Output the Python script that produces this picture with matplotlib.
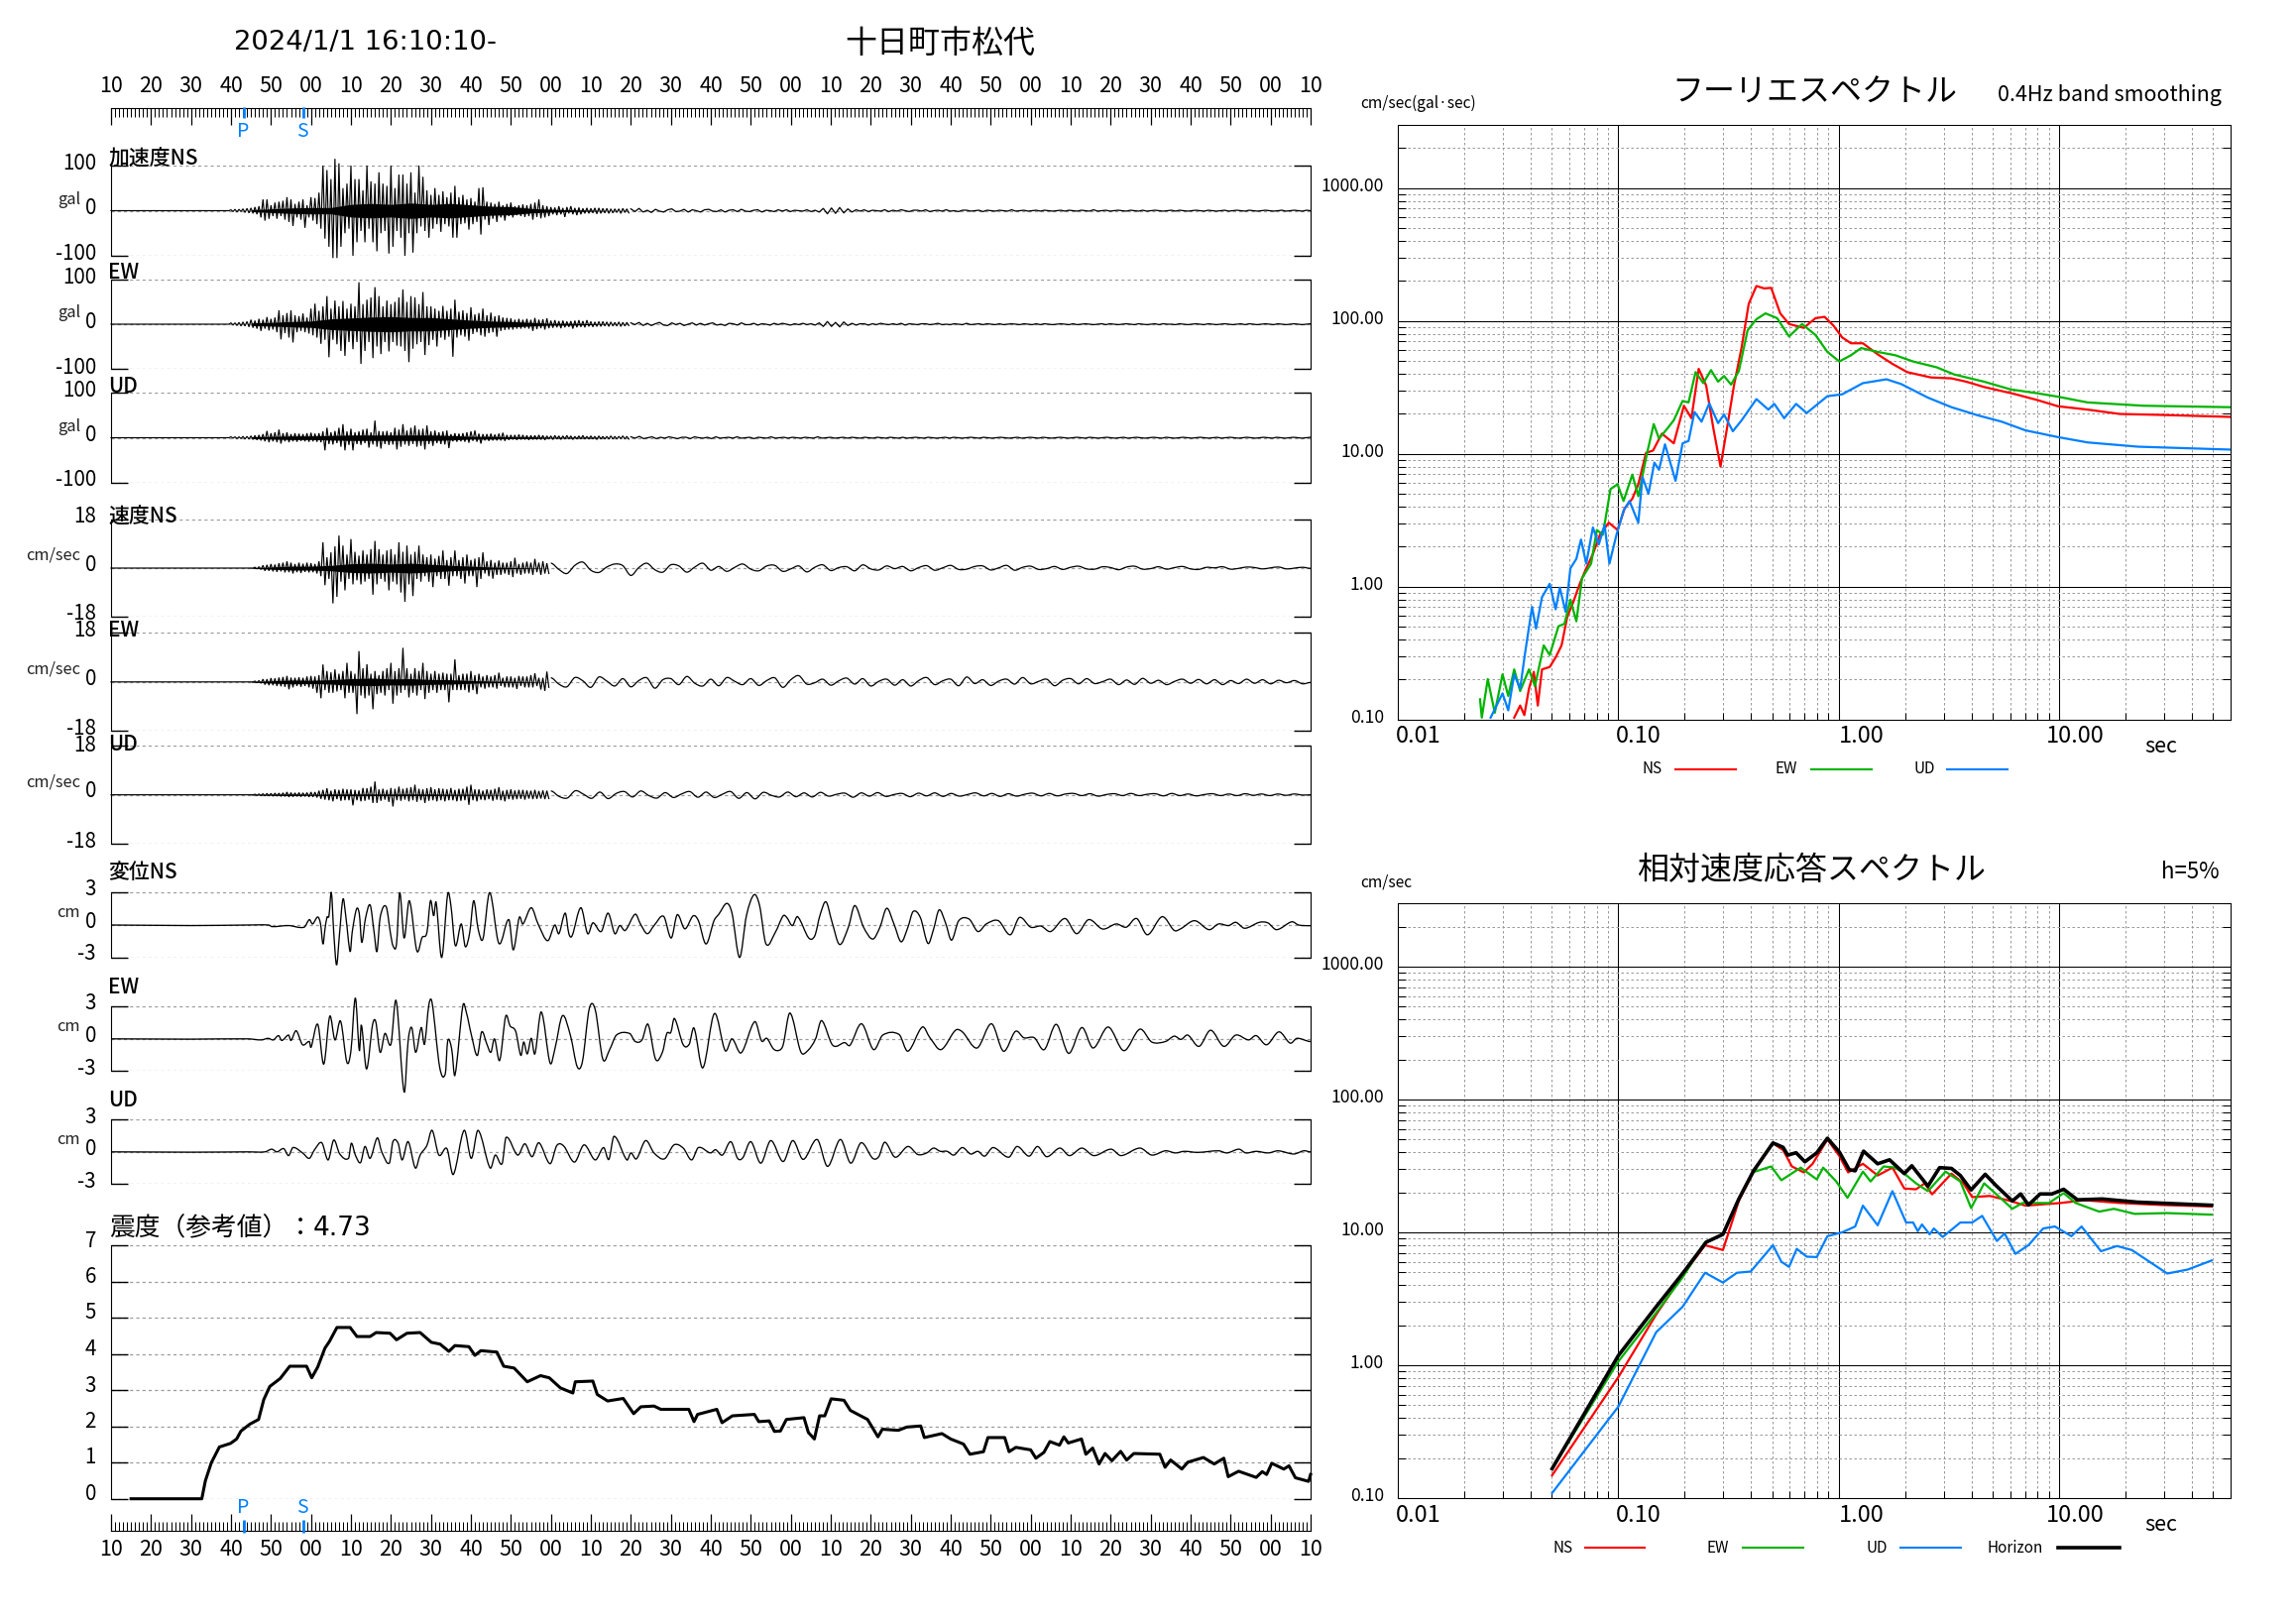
import matplotlib
matplotlib.use('Agg')
import matplotlib.pyplot as plt
import numpy as np
from matplotlib.patches import PathPatch
from matplotlib.path import Path
from matplotlib.ticker import LogLocator, NullFormatter, MultipleLocator

plt.rcParams['font.family'] = ['Noto Sans CJK JP', 'DejaVu Sans']

W, H = 2316, 1637
RED, GREEN, BLUE = '#ff0000', '#00b400', '#0080ff'
GRAY = '#9a9a9a'

P_TIME = 33.2
S_TIME = 48.1
time_labels = ['10', '20', '30', '40', '50', '00'] * 5 + ['10']

# --- acceleration, gal: highest and lowest reading per second from t=30, then the tail from t=130
acc_ns_up = [2,3,3,4,5,6,8,10,25,25,12,18,20,22,30,25,15,20,25,12,30,28,40,100,90,70,115,105,50,60,
             100,70,70,45,100,65,60,85,60,55,100,50,80,80,60,85,40,100,75,45,35,50,35,43,30,40,55,30,35,25,
             28,20,50,52,20,18,15,20,12,15,18,10,12,14,12,15,18,25,12,10,
             8,7,10,6,8,10,6,7,5,6,5,6,6,5,5,4,4,4,5,4]
acc_ns_lo = [-2,-3,-2,-4,-5,-6,-8,-15,-22,-18,-12,-18,-12,-20,-25,-34,-15,-20,-38,-15,-22,-30,-40,-62,-80,-105,-105,-80,-50,-40,
             -100,-70,-45,-70,-40,-70,-90,-50,-45,-95,-80,-45,-60,-100,-50,-93,-50,-35,-45,-60,-40,-30,-47,-30,-35,-60,-60,-30,-28,-42,
             -30,-25,-53,-20,-32,-18,-25,-15,-22,-12,-15,-10,-12,-14,-12,-20,-14,-17,-15,-12,
             -8,-10,-8,-14,-6,-8,-10,-8,-6,-6,-5,-7,-6,-5,-6,-5,-4,-6,-4,-5]
acc_ns_tail = [4,-2,5,-3,1,-4,3,-1,-3,2,4,-2,-1,3,-3,2,0,-3,2,3,-1,-2,2,-3,1,2,-2,3,-1,-2,1,2,-3,1,0,-2,2,-1,2,-2,1,0,-1,2,-2,1,-3,5,-7,6,-6,7,-5,4,-3,2,-1,2,-2,1,
               0,-1,2,-2,1,-1,2,0,-2,1,1,-1,2,-2,0,1,-1,2,-1,0,-2,1,1,-1,0,1,-2,1,0,-1,1,0,-1,2,-1,0,1,-1,0,1,-1,1,0,-1,0,1,-1,1,0,-1,1,0,-1,2,-1,0,1,-1,0,1,
               0,-1,1,0,-1,1,-1,0,1,0,-1,0,1,-1,1,0,-1,0,1,0,-1,1,0,-1,0,1,-1,0,1,0,-1,1,0,-1,0,1,0,-1,0,1,-1,0,1,0,-1,1,0]

acc_ew_up = [3,3,4,5,6,10,8,12,10,16,12,15,31,20,25,31,20,18,24,15,35,46,30,40,63,35,53,40,52,35,
             46,40,94,45,55,60,83,63,40,53,45,50,60,78,50,63,60,45,72,40,40,35,30,41,30,35,55,28,31,25,
             38,22,25,35,20,26,18,20,15,14,13,10,12,10,12,10,14,10,11,13,
             8,9,7,8,6,7,8,9,7,9,6,5,6,6,5,5,4,5,4,4]
acc_ew_lo = [-2,-3,-4,-4,-6,-8,-10,-15,-10,-14,-12,-18,-34,-20,-30,-41,-18,-15,-18,-21,-25,-30,-44,-35,-74,-35,-45,-60,-71,-40,
             -56,-40,-89,-60,-40,-76,-50,-67,-40,-61,-40,-48,-50,-60,-85,-55,-45,-40,-69,-47,-35,-50,-30,-35,-28,-73,-30,-25,-28,-37,
             -22,-18,-25,-28,-20,-18,-28,-15,-13,-12,-12,-10,-10,-9,-10,-15,-11,-9,-12,-9,
             -8,-7,-9,-7,-6,-10,-7,-6,-7,-5,-6,-5,-5,-4,-5,-4,-4,-5,-4,-3]
acc_ew_tail = [3,-1,4,-3,2,-3,1,4,-2,-3,3,-1,2,-3,0,3,-2,2,-2,1,3,-2,0,-3,2,1,-2,3,-1,-1,2,-2,1,0,-2,2,-1,2,0,-2,1,-1,2,-1,1,-2,3,-5,6,-5,4,-6,5,-3,2,-2,1,1,-2,1,
               -1,2,0,-1,1,-1,2,-2,1,0,-1,1,1,-1,0,2,-1,0,-1,1,0,-1,2,-1,0,1,-1,1,0,-1,1,-1,0,1,0,-1,1,0,-1,1,-1,1,0,-1,0,1,0,-1,1,-1,0,1,0,-1,0,1,-1,1,0,-1,
               0,1,0,-1,1,0,-1,0,1,-1,1,0,0,-1,1,0,-1,0,1,0,-1,1,0,-1,0,1,0,-1,0,1,-1,1,0,-1,0,1,0,-1,1,0,-1,0,1,0,-1,0,1]

acc_ud_up = [2,2,2,3,3,4,5,6,8,15,10,12,18,10,12,8,10,9,8,10,11,9,10,14,22,12,15,22,30,14,
             20,12,14,18,20,12,38,15,14,15,12,22,18,30,16,22,27,18,20,27,14,16,12,14,16,8,10,9,10,12,
             14,16,9,8,8,9,7,9,11,6,6,6,7,6,5,5,5,6,5,4,
             4,5,4,4,5,4,3,4,5,3,4,3,4,3,3,4,3,3,4,3]
acc_ud_lo = [-1,-2,-2,-3,-3,-4,-5,-6,-8,-10,-8,-10,-13,-8,-10,-8,-9,-7,-8,-9,-8,-9,-10,-28,-14,-15,-12,-20,-28,-16,
             -28,-14,-16,-12,-22,-15,-20,-24,-14,-16,-15,-26,-20,-15,-18,-14,-20,-18,-26,-14,-18,-12,-14,-15,-23,-8,-9,-8,-9,-11,
             -7,-9,-13,-6,-7,-6,-6,-6,-7,-5,-4,-5,-4,-4,-5,-4,-4,-4,-5,-3,
             -4,-3,-4,-3,-3,-4,-3,-3,-3,-3,-3,-4,-3,-3,-3,-3,-3,-2,-3,-3]
acc_ud_tail = [2,-1,3,-2,0,2,-2,1,-1,2,0,-2,1,1,-2,2,0,-1,1,-2,2,-1,0,1,-1,2,-1,0,1,-2,1,0,-1,2,-1,0,1,-1,1,0,-1,1,0,-1,2,-1,0,1,-1,0,1,-1,1,0,-1,1,0,-1,1,0,
               -1,1,0,-1,1,-1,0,1,0,-1,1,0,-1,0,1,-1,1,0,-1,0,1,0,-1,1,0,-1,0,1,0,-1,0,1,-1,0,1,0,-1,1,0,-1,0,1,0,-1,0,1,0,-1,1,0,-1,0,1,0,-1,0,1,-1,0,1,
               0,-1,0,1,0,-1,1,0,-1,0,1,0,-1,0,1,0,-1,0,1,-1,0,1,0,-1,0,1,0,-1,0,1,0,-1,1,0,-1,0,1,0,-1,0,1]

# half width of the solid black part of each trace, every 5 s from t=35
core_t = [35,40,45,50,55,60,65,70,75,80,85,90,95,100,105,110,115,120,125]
acc_ns_core = [2,4,6,7,7,14,16,14,17,14,16,13,10,9,5,3,2,1,0]
acc_ew_core = [3,4,6,7,12,14,16,17,15,15,12,9,7,6,4,2,2,1,0]
acc_ud_core = [2,3,4,4,5,6,6,6,6,6,5,3,3,2,2,1,1,1,0]
vel_ns_core = [.1,.4,.7,.7,1,1.6,1.8,1.5,1.8,1.4,1,.7,.4,.2,.1,0,0,0,0]
vel_ew_core = [.1,.4,.7,.6,.8,1.2,1.4,1.1,1.2,.9,.8,.5,.3,.2,.1,0,0,0,0]
vel_ud_core = [.1,.2,.3,.2,.3,.3,.3,.3,.3,.3,.2,.2,.1,.1,0,0,0,0,0]

# --- velocity, cm/sec: same readings from t=36, tail from t=110
vel_ns_up = [.3,.5,1,1.2,1.5,1.3,1.8,2,2.5,2,1.5,2,1.6,2,1.8,1.5,2.5,9.5,4,5.8,8,12,8.3,5,10.7,6,4.6,6.5,5,7,
             10,7,5,6.5,7,5,9.5,6,8.3,5,6,8.3,5,4,5,3.5,4.5,6.5,3,4,6.5,3,4,5,3,3.5,4,5.8,2.5,3,
             2,2.8,2,2,2.5,3.8,1.5,2,2.4,2,3.4,2,2.5,1.8]
vel_ns_lo = [-.3,-.5,-1,-1,-1.2,-1.4,-1.2,-1.6,-1.5,-2,-1.5,-1.8,-1.4,-1.6,-1.5,-2,-3,-6.3,-4,-13,-10.6,-5,-8.2,-4,-6,-4.5,-6,-5,-4,-9.8,
             -6,-4,-5,-8.2,-5,-6,-9,-12.4,-6,-10.3,-4,-5,-3,-5,-7,-3,-4,-4,-6.5,-3,-3,-4,-5.7,-3,-3,-7,-4,-2,-3,-3.9,
             -2.5,-2.5,-2,-2.5,-3.3,-2,-2.5,-2,-2,-2.5,-1.5,-2.5,-2,-2]
vel_ns_tail = [1.8,-.5,-2,1,2.2,-.8,-1.6,.4,1.5,.9,-2.7,.2,1.8,-.6,-1.5,1.2,.8,-1.5,.4,1.8,-.8,.6,-1.2,.3,1.5,-.4,-1,.8,1,-1.2,
               -.3,.8,-1.4,.3,1.2,-.9,.2,.5,-1,1.2,-.3,-.7,.8,-.2,.6,-1,.2,.9,-.8,.1,1,-.5,-.4,.6,.8,-.7,.1,1,-.8,.3,
               .7,-.5,-.2,.6,-.5,.3,.7,-.3,-.4,.5,.2,-.6,.4,.7,-.4,-.2,.5,-.4,.2,.6,-.3,-.5,.3,.1,.5,-.4,-.1,.4,.2,-.3,.1,.4,-.3,0,.3,-.1]

vel_ew_up = [.3,.5,1,1,1.4,1.3,1.6,1.8,2.2,1.6,1.5,1.7,1.5,2,2.2,2,2.5,6.4,4,3.5,4.6,3,4,7,4,3,11.3,5,6.5,3,
             4,2.5,4,5,7,4,5,12.5,5,3,5,4,7,4,3,4,3,3.4,3,3,8.3,2.5,3,3,4,2.5,3,2,2.5,2,
             2.5,3.4,1.5,2,2,1.5,2.2,2,2,2.5,3.2,1.5,1.5,3.8]
vel_ew_lo = [-.3,-.5,-1,-1.2,-1.2,-1.5,-1.6,-1.8,-2.7,-2,-1.5,-1.8,-1.5,-2,-2.5,-4,-6,-3,-4,-4,-3.5,-3,-6,-4,-4,-11.8,-5,-6,-5,-10,
             -4.5,-4,-5,-3,-8,-5,-4,-3,-5.7,-4,-5,-3,-6.3,-4,-3,-4,-3,-3,-7.5,-3,-3,-3,-3,-3.9,-3,-4.5,-2,-2.5,-2,-2,
             -2.5,-1.5,-2,-2,-2,-2.6,-1.5,-2,-2,-2,-1.5,-2.8,-3.3,-2]
vel_ew_tail = [1.5,-.8,-1.8,1.6,.4,-2,1.8,.3,-1.5,1.2,-1.8,.5,1.5,-2.3,.8,1.2,-1,2,-.5,-1.5,1,-1.4,1.6,.2,-1,1.2,-1.3,.5,1.5,-2,
               .8,2.3,-.8,-.3,1,-1.2,.4,1.4,-.8,1.2,-1.5,.2,1,-1.2,.8,-1.5,.5,1.6,-1,.4,1,-1.4,1.8,-.6,.8,-1.3,.3,1,-.8,1.6,
               -.7,.2,1,-1.4,.6,1.2,-.7,1.2,-.6,.1,1,-1,.7,-.9,1.3,-.5,.6,-1,.2,1,-.5,.9,-.7,.8,-1,.5,-.6,1,-.5,.8,-.7,.6,-.3,.5,-.7,-.2]

vel_ud_up = [.2,.3,.4,.5,.5,.6,.6,.7,1,.8,.7,.8,.7,.8,1,1,1.5,1.8,2.4,1.5,2,1.8,2.2,2,2,1.8,1.6,2.5,2.4,3,
             4.9,2,2.2,1.8,2.5,2.2,3,2.2,2.5,2.8,3.7,2.2,2,2.4,2.8,2,2.4,2.2,2,2.5,1.8,2.2,2.2,3,3.7,2,2,1.5,2,1.8,
             2.2,2.8,1.5,1.8,2,1.6,1.8,1.8,1.6,1.5,1.8,1.4,1.6,1.5]
vel_ud_lo = [-.2,-.3,-.4,-.4,-.5,-.5,-.6,-.6,-.8,-.7,-.6,-.7,-.6,-.8,-.8,-1,-1.5,-1.8,-2,-2.4,-1.6,-2.2,-2,-2,-3.9,-2,-2.4,-2.2,-1.8,-3,
             -3,-2.2,-1.8,-2.6,-4.3,-2,-2.2,-1.8,-2.4,-2,-2.6,-2,-3,-2.2,-2,-2.4,-2,-2.4,-2,-2,-2.4,-2.2,-2,-3.7,-2,-2.4,-1.8,-2,-1.6,-2.2,
             -1.8,-2,-2.4,-1.6,-1.8,-1.6,-1.5,-1.8,-1.4,-1.6,-1.5,-1.4,-1.6,-1.4]
vel_ud_tail = [1.4,-.6,-1.2,1.5,.2,-1.3,1,-1.4,.5,1.2,-.8,1.4,-.3,-1.2,.8,-1,.3,1.2,-.9,1,-1,.2,1.2,-1.3,.8,-1.5,.9,-.2,-.8,1,
               -.7,.7,-.8,.9,-.5,.2,.6,-.9,.7,-.5,.8,-.6,.1,.5,-.7,.6,-.4,.7,-.6,.5,-.5,.1,.7,-.4,.5,-.6,.4,-.5,.2,.6,
               -.4,.5,-.4,.3,.5,-.3,.4,-.5,.1,.4,-.3,.5,-.3,.2,.4,-.4,.5,-.3,.3,-.4,.1,.4,-.3,.3,-.3,.4,-.2,.3,-.3,.3,-.2,.3,-.1,0]

# --- displacement, cm: turning points
disp_ns_t = [0,20,34.2,39.4,40.3,44.4,48.3,49.6,50.4,51.7,52.4,53,53.5,54,54.5,55.1,55.7,56.4,57.1,58,58.7,59.8,60.3,61.4,62.1,62.7,63.6,64.8,65.8,66.5,
             67.3,68.8,69.9,70.5,71.4,72.2,73.3,74.6,76.5,77.8,79,79.9,80.7,81.3,82.7,84.2,85,86.1,87.6,88.6,89.7,90.7,91.8,93,94.7,97,99.5,100.6,102.1,103,
             105.1,106.8,109.2,111,112,113.6,114.5,115.3,117.5,119.2,120.5,122.6,124.3,126,127.2,128.6,131.1,132.4,134.1,135.8,138.2,140.1,141.6,143.5,145.6,146.9,148.8,150.8,152,154,155.3,157.2,158.9,160.8,162.2,163.8,166.1,168.1,
             169,170.4,171.7,174.5,176,177.3,178.8,180.3,182.2,184.4,186,188.2,190.5,192.3,194,195.8,197.6,199.3,200.6,202.4,204.3,205.7,207.1,208.7,210.2,212,214.6,216.8,218.9,221.9,224.9,227.2,230,232.6,235,238.6,241.5,244.5,248,251.4,253.9,256.5,259.2,262.9,265.9,267.5,271,274.6,277,279.5,281.3,283.5,287.2,289.3,291.5,295.3,297,300]
disp_ns_v = [0,-.05,0,0,-.15,-.05,-.2,.5,.1,.74,.1,-1.75,-.4,.7,.85,3,-.7,-3.7,-1,2.4,.85,-2.46,-.7,1.48,1,-1.6,.55,1.85,-.7,-2.46,
             .7,1.7,-.8,-1.9,-1.75,3,-1.2,2.25,-2.4,-1.15,-.7,2.25,.85,2.1,-3,2.86,1.8,-1.9,.1,-2,-.7,2.25,-.35,-1.3,3,-1.7,.5,-2.3,.7,.1,
             1.6,.1,-1.45,0,-.8,1.1,-.8,-1,1.6,-.8,.2,-.6,1.1,-.8,-.05,-.5,1,.1,-.8,-.05,.8,-1.2,.95,-.35,.85,.4,-1.75,.4,1,2,1.1,-3,.85,2.8,1.8,-1.75,-.7,.85,
             .7,-.05,.77,-1.2,-1,.9,2.15,.3,-1.8,-.2,1.8,-.2,-1.3,-.2,1.55,.1,-1.55,-.2,1.25,.7,-1.7,-.4,1.4,.2,-1.4,.4,.55,-.6,.1,.4,-.9,.7,-.2,-.1,-.6,.6,-.8,.5,-.37,.1,-.2,.6,-.9,.77,-.5,-.35,.4,-.43,.1,-.05,.25,-.3,.25,.2,-.43,.3,0,-.06]

disp_ew_t = [0,20,34.2,37.6,39.3,40.6,41.9,42.7,44.4,45,46.3,47.9,49.6,50,51.7,53.2,54.7,56,57.4,59,60,61.1,62.1,62.6,63.9,65.4,66.2,67.3,68.5,70,
             71.3,73.3,74.3,75.2,76.2,77.6,78.4,79.5,80.3,82.2,83.6,84.2,85.2,86,88,88.9,90.1,91.6,92.7,94,95,95.9,97.2,98.7,99.8,101.2,102.5,103.2,104.1,105.1,
             106,107.6,109.8,111,112.9,114.9,116.6,117.9,119.6,121.1,123,124.7,126.4,129.7,131.1,132.8,134.3,136.2,137.9,139,140,140.9,143.1,144.6,145.8,148,150.9,153.6,155.3,157.6,161,162.7,164,165.7,167.2,
             168.1,169.8,172.5,174.1,176.2,177.7,180.5,183.5,184.8,187.7,190.7,193,197.1,199.3,202.9,204.8,207.6,211.2,212.9,216.6,220.2,223.2,226.2,228.3,230.9,233.4,236.4,239.5,242.8,245.6,249.4,253.3,257.3,260.3,263.7,265.9,267.6,269.3,272.1,275,278.3,281.3,284.5,286.4,289,292.1,294.9,296.6,300]
disp_ew_v = [0,-.03,0,-.1,.05,-.1,.3,-.15,.35,-.15,.75,-.55,-.25,-.8,1.35,-2.35,2.1,-.1,1.65,-2.2,-1.1,3.8,-1.1,1.3,-2.8,1.3,1.6,-1.25,.5,-.5,
             3.55,-4.95,-.2,1.05,-1.25,1.05,-.5,3.2,3.35,-2.65,-3.25,-.2,-.95,-3.4,3.1,2.4,.4,-1.55,.65,-.5,-1.25,0,-2,2.1,1.2,.7,-1.55,-.3,-1.4,.05,
             -1.4,2.5,-2.25,-.95,2.15,.3,-2.6,-2.1,2.8,2.7,-1.9,-1,.35,.5,-.25,-.1,1.35,-1.9,-1.25,.5,.6,1.9,-.55,-.5,1,-2.7,2.35,-1.1,0,-1.3,1.6,-.2,.05,-.95,-1.05,
             -.55,2.4,-1.2,-1.15,0,1.7,-.6,-.35,-.6,1.4,-1,.35,.4,-1.15,1.1,.1,-1,.8,.65,-.85,1.4,-1.15,.7,.1,.1,-1,1.35,-1.35,1.05,-.85,1.1,-1.1,.9,-.3,-.25,.25,-.05,.35,-.7,.8,-.7,.35,-.1,.3,-.55,.65,-.4,.05,-.25]

disp_ud_t = [0,20,34.2,38.5,40.2,41.5,43.2,44.4,45.5,47.9,49.6,50.9,52.7,54.3,55.7,57.2,59.4,60.1,61.1,62.4,63.5,64.8,66.6,67.7,69.6,70.5,71.8,72.8,74.3,76.1,
             77.3,79,80.3,82,84,85.6,88.3,90.1,91.8,94.8,96.1,97.8,98.8,101.7,103.5,105.3,107,109.8,111.5,113.2,115.9,118.3,121.1,123.2,124.5,125.8,129,130,131.4,133.7,135.8,138.4,140.8,143.1,145.2,146.9,149.9,151.2,152.9,155,156.7,158,160,162.5,165,168.1,
             170.5,173.1,176.6,179.2,182.4,185,187.6,190.5,192,193.5,196.1,199.3,201.8,204,205.7,207.4,209.1,210.8,212.9,215,216.8,218.5,220.6,224.5,226.6,229.6,231.7,234,237.3,239.7,242.8,245.8,250.1,252.6,257.3,260.3,263.7,266.2,268.4,271.8,277,279.1,282.1,283.8,286.4,289.4,291.9,295.8,298.3,300]
disp_ud_v = [0,-.03,0,0,.25,0,.3,-.35,.4,-.1,-.6,.2,.85,-.75,1.1,-.2,-.6,.8,-.3,-1,.5,-.6,1.3,0,-1.05,.95,.8,-.75,.95,-1.5,
             -.3,.6,2,-.3,.3,-2.1,2,-.6,2,-1.5,-.3,-1.1,1.35,-.3,.75,-.45,.85,-1.1,.6,.55,-.95,.65,-.75,.4,-.7,1.45,-.75,-.1,-.65,1.05,-.1,-.65,.65,.35,-.75,.4,-.1,.2,-.3,.95,-.6,-.55,.95,-1.05,1.05,-.9,
             1.05,-.7,1.15,-1.35,1.15,-1.05,.85,-.6,-.45,.9,-.5,.5,-.25,-.1,.35,.05,.05,-.3,.4,-.2,.05,-.4,.4,-.5,.5,-.4,.5,-.45,.35,-.35,.35,-.35,.25,-.35,.35,-.3,.1,-.1,.05,-.05,.1,-.1,.25,-.1,.05,-.1,.1,-.2,.1,0]

# --- seismic intensity
intensity_t = [5,22.7,23.6,25.1,27.1,29.9,31.4,32.5,34.7,36.9,38.2,39.7,42.3,44.7,48.9,50.2,51.7,53.5,54.6,56.5,59.8,61.5,64.8,66.3,69.8,71.4,74,77.3,80.1,82.3,
               84.5,86,89.5,91,92.5,96.5,98.2,100.8,104.1,107.4,109.6,112.4,115.5,116.1,120.5,121.6,124.2,128.1,130.7,132.5,135.8,137.5,144.5,145.8,146.7,151.5,152.8,155.4,160.9,162,
               164.6,165.9,167.4,168.9,173.3,174.4,175.9,177.2,178.5,180.1,183.3,184.9,189.2,191.8,192.9,196.9,199,202.5,203.4,207.8,210,213.2,214.8,218.2,219.3,223.5,224.6,226.3,230,231.3,
               233.3,234.8,237.2,238.3,239.4,242.7,243.8,245.5,247.1,248.6,250.3,252.5,254,255.8,262.3,263.6,265,267.8,269.3,273.2,275.9,278.3,279.4,282,286.4,287.9,289,290.3,293.3,294.6,296.2,299.5,300]
intensity_v = [0,0,.5,1,1.43,1.53,1.65,1.87,2.06,2.19,2.74,3.1,3.32,3.66,3.66,3.34,3.64,4.16,4.34,4.73,4.73,4.48,4.48,4.59,4.57,4.39,4.57,4.59,4.32,4.27,
               4.07,4.23,4.2,3.96,4.09,4.05,3.66,3.61,3.23,3.4,3.34,3.06,2.92,3.23,3.25,2.88,2.7,2.77,2.35,2.54,2.56,2.47,2.47,2.13,2.33,2.47,2.1,2.29,2.33,2.13,
               2.15,1.86,1.87,2.19,2.24,1.83,1.65,2.29,2.29,2.76,2.72,2.44,2.19,1.71,1.92,1.89,1.98,2.01,1.69,1.8,1.65,1.51,1.23,1.3,1.69,1.69,1.3,1.42,1.35,1.12,
               1.28,1.58,1.48,1.71,1.54,1.65,1.23,1.4,.96,1.25,1.05,1.31,1.07,1.25,1.23,.87,1.07,.82,1.01,1.14,.96,1.12,.61,.76,.59,.75,.67,.98,.82,.91,.58,.48,.67]

# --- Fourier spectrum, log10 of period and amplitude
fs_ns_logt = [-1.472,-1.445,-1.426,-1.405,-1.383,-1.365,-1.346,-1.311,-1.284,-1.257,-1.231,-1.204,-1.177,-1.150,-1.115,-1.083,-1.043,-1.003,-.971,-.936,-.909,-.874,-.842,-.802,-.748,-.702,-.668,-.635,-.601,-.568,-.536,-.507,-.475,-.440,-.408,-.373,-.338,-.306,-.265,-.225,-.158,-.105,-.064,-.024,.016,.056,.110,.177,.244,.311,.418,.512,.579,.660,.794,.901,.995,1.129,1.276,1.464,1.777]
fs_ns_loga = [-.986,-.895,-.967,-.768,-.642,-.895,-.623,-.605,-.533,-.442,-.225,-.117,.010,.119,.245,.390,.481,.426,.589,.662,.770,1.006,1.024,1.151,1.078,1.361,1.267,1.639,1.513,1.187,.904,1.187,1.513,1.802,2.128,2.262,2.244,2.248,2.056,1.976,1.947,2.020,2.030,1.965,1.875,1.831,1.831,1.748,1.676,1.614,1.574,1.567,1.542,1.502,1.451,1.404,1.357,1.332,1.299,1.292,1.277]
fs_ew_logt = [-1.627,-1.619,-1.592,-1.560,-1.525,-1.499,-1.472,-1.445,-1.405,-1.378,-1.338,-1.311,-1.271,-1.244,-1.217,-1.190,-1.164,-1.123,-1.097,-1.070,-1.035,-1.003,-.976,-.936,-.909,-.869,-.839,-.815,-.775,-.748,-.708,-.681,-.649,-.614,-.579,-.547,-.520,-.488,-.453,-.413,-.373,-.332,-.279,-.225,-.166,-.105,-.051,.003,.056,.102,.177,.257,.338,.445,.525,.660,.780,.901,.995,1.129,1.383,1.777]
fs_ew_loga = [-.848,-.986,-.696,-.949,-.660,-.823,-.623,-.786,-.623,-.750,-.442,-.515,-.298,-.280,-.098,-.261,.064,.173,.426,.390,.734,.770,.644,.843,.680,1.006,1.223,1.114,1.194,1.252,1.397,1.386,1.614,1.531,1.629,1.542,1.585,1.520,1.621,1.929,2.012,2.056,2.020,1.882,1.976,1.893,1.766,1.694,1.741,1.795,1.766,1.741,1.694,1.650,1.596,1.542,1.484,1.455,1.429,1.386,1.361,1.350]
fs_ud_logt = [-1.579,-1.552,-1.525,-1.499,-1.472,-1.445,-1.424,-1.391,-1.373,-1.346,-1.311,-1.284,-1.265,-1.239,-1.217,-1.190,-1.169,-1.145,-1.115,-1.088,-1.062,-1.040,-1.008,-.976,-.949,-.909,-.890,-.863,-.836,-.815,-.788,-.740,-.708,-.681,-.654,-.622,-.587,-.547,-.520,-.480,-.440,-.373,-.319,-.292,-.247,-.193,-.145,-.051,.016,.110,.217,.284,.405,.512,.633,.740,.847,.995,1.129,1.357,1.777]
fs_ud_loga = [-.986,-.895,-.804,-.931,-.660,-.768,-.515,-.153,-.316,-.080,.021,-.171,-.008,-.189,.137,.209,.354,.173,.445,.318,.463,.173,.390,.571,.644,.481,.825,.698,.933,.879,1.071,.796,1.078,1.096,1.314,1.241,1.379,1.230,1.295,1.169,1.252,1.411,1.332,1.375,1.267,1.375,1.306,1.433,1.447,1.531,1.560,1.524,1.422,1.350,1.288,1.241,1.176,1.125,1.085,1.053,1.031]

# --- relative velocity response spectrum
rs_ns_logt = [-1.300,-1.000,-.828,-.708,-.606,-.525,-.453,-.386,-.298,-.252,-.212,-.158,-.118,-.051,.003,.043,.110,.177,.244,.298,.351,.391,.424,.512,.566,.606,.686,.780,.847,1.008,1.115,1.276,1.464,1.692]
rs_ns_loga = [-.829,-.091,.381,.676,.903,.867,1.236,1.457,1.670,1.619,1.496,1.451,1.516,1.699,1.575,1.451,1.516,1.428,1.487,1.330,1.324,1.369,1.286,1.442,1.369,1.265,1.274,1.236,1.201,1.221,1.242,1.221,1.206,1.195]
rs_ew_logt = [-1.300,-1.000,-.828,-.708,-.606,-.525,-.453,-.391,-.306,-.260,-.172,-.099,-.070,-.011,.040,.110,.145,.204,.257,.298,.351,.405,.485,.552,.601,.660,.700,.788,.834,.954,1.021,1.075,1.182,1.249,1.343,1.491,1.692]
rs_ew_loga = [-.779,.027,.395,.661,.926,.985,1.251,1.451,1.496,1.392,1.487,1.398,1.487,1.383,1.260,1.457,1.383,1.496,1.487,1.442,1.369,1.310,1.457,1.383,1.183,1.369,1.310,1.177,1.221,1.221,1.295,1.221,1.156,1.177,1.139,1.145,1.133]
rs_ud_logt = [-1.300,-1.000,-.828,-.708,-.606,-.525,-.461,-.399,-.298,-.260,-.225,-.190,-.145,-.099,-.051,.016,.075,.110,.177,.244,.306,.338,.359,.378,.413,.432,.472,.552,.606,.651,.718,.753,.802,.861,.928,.981,1.056,1.102,1.190,1.263,1.330,1.491,1.584,1.692]
rs_ud_loga = [-.962,-.313,.248,.440,.696,.622,.696,.705,.903,.779,.740,.876,.817,.814,.971,1.000,1.044,1.201,1.053,1.310,1.074,1.074,1.009,1.059,.985,1.029,.965,1.074,1.074,1.124,.935,.991,.838,.903,1.029,1.044,.971,1.044,.858,.897,.867,.690,.720,.788]
rs_h_logt = [-1.300,-1.000,-.828,-.708,-.601,-.525,-.453,-.386,-.298,-.252,-.231,-.193,-.153,-.099,-.051,.003,.048,.075,.113,.177,.231,.298,.332,.405,.458,.512,.552,.601,.665,.713,.788,.826,.861,.914,.968,1.021,1.083,1.196,1.357,1.692]
rs_h_loga = [-.779,.071,.440,.690,.926,.985,1.251,1.463,1.673,1.640,1.581,1.599,1.531,1.599,1.708,1.605,1.472,1.463,1.611,1.516,1.546,1.442,1.501,1.348,1.487,1.481,1.428,1.319,1.437,1.354,1.236,1.289,1.206,1.289,1.289,1.324,1.245,1.251,1.227,1.204]

fig = plt.figure(figsize=(W / 100, H / 100), dpi=100, facecolor='white')


def add_ax(left, top, right, bottom):
    return fig.add_axes([left / W, 1 - bottom / H, (right - left) / W, (bottom - top) / H])


def label(x, y, s, size, ha='left', color='black', **kw):
    fig.text(x / W, 1 - y / H, s, fontsize=size, ha=ha, va='center', color=color, **kw)


def zigzag(start, up, lo):
    # one up and one down reading per second
    t_up = start + np.arange(len(up))
    t = np.column_stack([t_up, t_up + 0.5]).ravel()
    y = np.column_stack([up, lo]).ravel()
    return np.r_[0, start - 0.5, t], np.r_[0, 0, y]


def smooth_line(ax, t, y, lw=0.95):
    # bezier through the readings, flat at the turning points like the original trace
    t = np.asarray(t, dtype=float)
    y = np.asarray(y, dtype=float)
    slope = np.zeros(len(t))
    slope[1:-1] = (y[2:] - y[:-2]) / (t[2:] - t[:-2])
    verts = [(t[0], y[0])]
    codes = [Path.MOVETO]
    for i in range(len(t) - 1):
        dt = (t[i + 1] - t[i]) / 3
        verts += [(t[i] + dt, y[i] + slope[i] * dt), (t[i + 1] - dt, y[i + 1] - slope[i + 1] * dt), (t[i + 1], y[i + 1])]
        codes += [Path.CURVE4] * 3
    ax.add_patch(PathPatch(Path(verts, codes), fill=False, ec='black', lw=lw, clip_on=False, zorder=3))


def panel(top, bottom, limit):
    ax = add_ax(112, top, 1322, bottom)
    ax.set_xlim(0, 300)
    ax.set_ylim(-limit, limit)
    for v in (-limit, 0, limit):
        ax.axhline(v, color=GRAY, ls=(0, (2.5, 2.5)), lw=0.9, zorder=1)
    ax.spines['top'].set_visible(False)
    ax.spines['bottom'].set_visible(False)
    ax.set_xticks([])
    ax.set_yticks([-limit, limit])
    ax.tick_params(axis='y', direction='in', left=True, right=True, labelleft=False, length=12.2, width=1)
    ax.patch.set_alpha(0)
    return ax


def shaking(top, bottom, limit, start, up, lo, core, tail_start, tail, smooth_tail):
    ax = panel(top, bottom, limit)
    t, y = zigzag(start, up, lo)
    ax.plot(t, y, color='black', lw=0.85, clip_on=False, zorder=3, solid_joinstyle='miter')
    core = np.array(core)
    ax.fill_between(core_t, -core, core, color='black', lw=0, zorder=3)
    t_tail = np.linspace(tail_start, 300, len(tail))
    if smooth_tail:
        smooth_line(ax, t_tail, tail, lw=0.9)
    else:
        ax.plot(t_tail, tail, color='black', lw=0.9, zorder=3, clip_on=False)


def ruler(top, bottom, side):
    ax = add_ax(112, top, 1322, bottom)
    ax.set_xlim(0, 300)
    ax.set_ylim(0, 1)
    ax.set_yticks([])
    for s in ax.spines:
        ax.spines[s].set_visible(s == side)
    ax.xaxis.set_major_locator(MultipleLocator(10))
    ax.xaxis.set_minor_locator(MultipleLocator(1))
    ax.set_xticks(np.arange(0, 301, 10))
    ax.set_xticklabels(time_labels, fontsize=15.5)
    if side == 'top':
        ax.xaxis.tick_top()
    ax.tick_params(axis='x', which='major', direction='in', length=12.2, width=0.9, pad=8 if side == 'top' else 6)
    ax.tick_params(axis='x', which='minor', direction='in', length=6.2, width=0.72)
    ax.patch.set_alpha(0)
    return ax


def spectrum(top, bottom, series):
    ax = add_ax(1410, top, 2250, bottom)
    ax.set_xscale('log')
    ax.set_yscale('log')
    ax.set_xlim(0.01, 60)
    ax.set_ylim(0.1, 3000)
    ax.xaxis.set_major_locator(LogLocator(base=10, numticks=10))
    ax.xaxis.set_minor_locator(LogLocator(base=10, subs=np.arange(2, 10), numticks=10))
    ax.yaxis.set_major_locator(LogLocator(base=10, numticks=10))
    ax.yaxis.set_minor_locator(LogLocator(base=10, subs=np.arange(2, 10), numticks=10))
    ax.xaxis.set_major_formatter(NullFormatter())
    ax.xaxis.set_minor_formatter(NullFormatter())
    ax.yaxis.set_major_formatter(NullFormatter())
    ax.yaxis.set_minor_formatter(NullFormatter())
    ax.grid(True, which='major', color='black', lw=0.75, zorder=1)
    ax.grid(True, which='minor', color=GRAY, lw=0.72, ls=(0, (2.5, 2.5)), zorder=1)
    ax.set_axisbelow(True)
    ax.tick_params(axis='x', which='both', direction='in', top=False, length=5, width=0.75)
    ax.tick_params(axis='y', which='both', direction='in', left=True, right=True, length=6, width=0.75)
    for s in ax.spines.values():
        s.set_linewidth(0.75)
    for logt, loga, color, lw in series:
        ax.plot(10 ** np.array(logt), 10 ** np.array(loga), color=color, lw=lw, zorder=3)
    return ax


def key(y, items):
    for text_x, line_left, line_right, name, color, lw in items:
        label(text_x, y, name, 11)
        fig.add_artist(plt.Line2D([line_left / W, line_right / W], [1 - y / H, 1 - y / H], color=color, lw=lw))


# --- waveforms
shaking(167, 258, 100, 30, acc_ns_up, acc_ns_lo, acc_ns_core, 130, acc_ns_tail, False)
shaking(282, 372, 100, 30, acc_ew_up, acc_ew_lo, acc_ew_core, 130, acc_ew_tail, False)
shaking(396, 487, 100, 30, acc_ud_up, acc_ud_lo, acc_ud_core, 130, acc_ud_tail, False)
shaking(523.7, 622.3, 18, 36, vel_ns_up, vel_ns_lo, vel_ns_core, 110, vel_ns_tail, True)
shaking(638.3, 737.3, 18, 36, vel_ew_up, vel_ew_lo, vel_ew_core, 110, vel_ew_tail, True)
shaking(752.3, 851, 18, 36, vel_ud_up, vel_ud_lo, vel_ud_core, 110, vel_ud_tail, True)
smooth_line(panel(900.3, 965.7, 3), disp_ns_t, disp_ns_v)
smooth_line(panel(1015.3, 1080.3, 3), disp_ew_t, disp_ew_v)
smooth_line(panel(1129.3, 1194.3, 3), disp_ud_t, disp_ud_v)

# panel labels, on the left of the traces
rows = [(165, 210, 255.7, 161, '加速度NS', '100', '-100', 'gal', 201),
        (280, 325, 371, 275, 'EW', '100', '-100', 'gal', 316),
        (394, 439, 484, 390, 'UD', '100', '-100', 'gal', 430),
        (520.7, 570, 618.5, 522, '速度NS', '18', '-18', 'cm/sec', 560),
        (636.5, 685, 734.5, 636, 'EW', '18', '-18', 'cm/sec', 675),
        (751.5, 798, 849, 751, 'UD', '18', '-18', 'cm/sec', 789),
        (897, 930, 962, 880, '変位NS', '3', '-3', 'cm', 920.7),
        (1012, 1045, 1077.7, 996, 'EW', '3', '-3', 'cm', 1035),
        (1126.7, 1159, 1191.7, 1110, 'UD', '3', '-3', 'cm', 1149)]
for y_top, y_mid, y_low, y_name, name, hi, lo, unit, y_unit in rows:
    label(97, y_top, hi, 14.8, ha='right')
    label(97, y_mid, '0', 14.8, ha='right')
    label(97, y_low, lo, 14.8, ha='right')
    label(109, y_name, name, 15, fontweight='medium')
    label(81, y_unit, unit, 11.8, ha='right', color='#222222')

# --- time rulers
top_ruler = ruler(109, 126, 'top')
top_ruler.vlines([P_TIME, S_TIME], 0.4, 1.05, color=BLUE, lw=2, zorder=5, clip_on=False)
bottom_ruler = ruler(1527, 1544, 'bottom')
bottom_ruler.vlines([P_TIME, S_TIME], -0.1, 0.65, color=BLUE, lw=2, zorder=5, clip_on=False)
label(245.5, 132.7, 'P', 14, ha='center', color=BLUE)
label(305, 132.7, 'S', 14, ha='center', color=BLUE)
label(245, 1521, 'P', 14, ha='center', color=BLUE)
label(304.6, 1521, 'S', 14, ha='center', color=BLUE)

label(236, 43, '2024/1/1 16:10:10-', 19.7, family='DejaVu Sans')
label(948, 43.5, '十日町市松代', 23, ha='center')

# --- intensity
ax = add_ax(112, 1256, 1322, 1511.7)
ax.set_xlim(0, 300)
ax.set_ylim(0, 7)
ax.set_xticks([])
ax.set_yticks(range(8))
ax.set_yticklabels([])
ax.tick_params(axis='y', direction='in', left=True, right=True, length=12.2, width=1)
for v in range(8):
    ax.axhline(v, color=GRAY, ls=(0, (2.5, 2.5)), lw=0.9, zorder=1)
ax.plot(intensity_t, intensity_v, color='black', lw=2.2, zorder=3, clip_on=False)
ax.spines['top'].set_visible(False)
ax.spines['bottom'].set_visible(False)
ax.patch.set_alpha(0)
for v in range(8):
    label(97, 1507 - v * 36.5, str(v), 14.8, ha='right')
label(110, 1239, '震度（参考値）：', 18.5)
label(316, 1239, '4.73', 19, family='DejaVu Sans')

# --- Fourier spectrum
spectrum(125.6, 725.7, [(fs_ns_logt, fs_ns_loga, RED, 1.6),
                        (fs_ew_logt, fs_ew_loga, GREEN, 1.6),
                        (fs_ud_logt, fs_ud_loga, BLUE, 1.6)])
label(1830, 93.5, 'フーリエスペクトル', 23, ha='center')
label(2015, 95.6, '0.4Hz band smoothing', 15.5)
label(1372, 104, 'cm/sec(gal·sec)', 11.2)

# --- response spectrum
spectrum(911, 1511, [(rs_ns_logt, rs_ns_loga, RED, 1.6),
                     (rs_ew_logt, rs_ew_loga, GREEN, 1.6),
                     (rs_ud_logt, rs_ud_loga, BLUE, 1.6),
                     (rs_h_logt, rs_h_loga, 'black', 2.6)])
label(1827, 877.5, '相対速度応答スペクトル', 23, ha='center')
label(2180, 880, 'h=5%', 16)
label(1372, 890, 'cm/sec', 11.2)

# spectrum tick text, placed as the original has it
for i, s in enumerate(['1000.00', '100.00', '10.00', '1.00', '0.10']):
    label(1396, 187.6 + i * 134, s, 12.7, ha='right')
    label(1396, 973 + i * 134, s, 12.7, ha='right')
for x, s in [(1408, '0.01'), (1630, '0.10'), (1855, '1.00'), (2064, '10.00')]:
    label(x, 742.5, s, 17)
    label(x, 1528.5, s, 17)
label(2163, 753, 'sec', 15.5)
label(2163, 1538, 'sec', 15.5)

key(775.6, [(1656, 1690, 1751, 'NS', RED, 1.5),
            (1791, 1826.6, 1887.5, 'EW', GREEN, 1.5),
            (1930, 1964, 2025, 'UD', BLUE, 1.5)])
key(1561, [(1566, 1598.5, 1659.4, 'NS', RED, 1.5),
           (1721.5, 1758, 1819, 'EW', GREEN, 1.5),
           (1883, 1916.7, 1977.6, 'UD', BLUE, 1.5),
           (2004.5, 2075.5, 2138, 'Horizon', 'black', 2.6)])

fig.savefig('out.png', dpi=100, facecolor='white')
